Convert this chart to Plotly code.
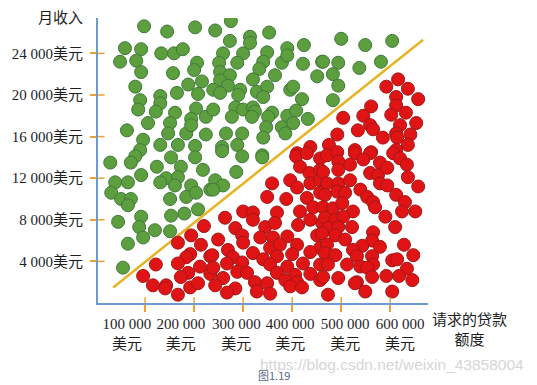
import plotly.graph_objects as go

# Loan amount requested (thousand USD) and monthly income (thousand USD)
green_loan = [98,145,202,59,92,133,159,177,49,82,92,157,206,200,80,188,216,165,131,208,
              90,131,86,122,161,204,106,151,194,224,63,147,184,194,224,96,131,167,202,90,
              275,243,273,314,314,353,259,300,349,390,424,251,288,341,379,390,422,461,253,273,
              333,320,365,451,253,269,239,294,328,349,396,402,253,290,341,420,239,284,300,320,
              324,359,390,408,277,318,351,432,379,402,347,265,298,341,386,257,288,339,
              500,549,604,463,494,537,581,483,494,483,
              29,80,71,124,153,173,202,218,39,65,92,143,167,131,161,194,31,51,71,65,
              151,184,204,233,92,153,180,208,45,88,120,151,65,96,55,
              257,298,339,286,243,259,239]
green_income = [26.6,26.1,26.5,24.5,24.4,24.0,24.0,24.4,23.2,23.3,22.2,22.1,23.1,22.4,20.8,21.0,21.3,20.2,19.9,20.1,
                19.5,19.2,18.6,18.4,18.3,18.7,17.3,17.3,17.7,17.9,16.6,16.3,16.3,17.1,16.2,15.7,15.2,15.2,15.1,14.7,
                27.1,26.2,25.2,25.6,25.0,26.0,24.0,24.0,24.1,24.5,24.8,23.1,23.1,23.2,23.1,23.8,23.0,23.2,22.2,21.9,
                22.5,21.5,21.9,21.8,21.4,20.9,20.5,20.5,20.3,20.8,20.5,20.8,20.2,20.0,19.8,19.6,18.6,18.8,18.6,18.8,
                18.4,18.3,18.0,18.5,17.9,17.9,17.9,17.7,16.9,17.3,16.9,16.3,16.3,15.9,16.3,15.0,15.2,14.2,
                25.4,24.8,25.2,23.2,23.1,22.6,23.2,22.0,20.9,19.5,
                13.5,14.1,13.5,13.1,14.0,13.1,14.0,12.8,11.6,11.6,12.3,12.0,12.1,11.6,11.3,11.3,10.6,10.0,10.0,9.4,
                10.0,10.2,10.6,10.9,8.3,8.4,8.6,9.0,7.8,7.3,7.0,6.9,5.7,6.3,3.4,
                14.6,14.1,14.0,12.6,11.8,11.3,10.9]

red_loan = [616,592,636,657,612,612,561,632,602,545,504,653,620,559,565,534,612,641,492,585,
            614,636,475,528,561,612,437,410,
            220,194,167,214,192,184,233,122,167,212,188,173,233,96,116,143,141,192,208,167,
            408,430,457,416,396,435,457,359,410,437,457,349,388,430,457,300,320,369,416,443,
            263,320,345,365,437,461,284,298,335,361,390,412,451,249,300,355,375,410,457,269,
            320,279,237,341,369,400,437,267,298,355,390,422,457,239,288,308,369,406,437,259,
            324,349,386,410,457,243,284,328,355,396,420,267,
            471,492,528,559,606,494,545,579,620,634,463,494,518,559,575,594,636,471,494,518,
            539,579,594,657,467,492,508,553,565,612,630,463,483,502,524,569,590,624,651,467,
            488,504,473,494,522,610,461,488,508,565,563,471,543,579,628,467,488,524,532,563,
            604,614,647,473,512,539,565,553,634,463,494,532,563,592,618,645,473,528,549,604]
red_income = [21.5,20.8,20.6,19.6,19.8,19.0,18.9,18.3,18.1,18.0,17.8,17.3,17.1,17.1,16.7,16.6,16.3,16.2,16.2,15.9,
              15.9,15.2,15.2,14.7,14.5,14.7,15.0,14.4,
              7.4,6.5,5.8,5.6,4.7,4.4,4.5,3.7,3.8,3.5,2.9,2.5,2.8,2.6,1.7,1.7,1.4,1.5,1.9,0.8,
              14.1,14.4,13.9,13.1,11.8,12.5,12.8,11.5,11.1,11.5,11.8,10.2,10.0,10.1,10.6,8.8,8.7,8.7,8.8,9.2,
              8.2,8.0,7.3,7.7,8.0,7.7,7.2,6.5,6.3,6.3,6.4,7.5,6.5,6.1,5.8,5.3,5.6,5.6,5.3,5.1,
              4.8,4.4,4.6,4.2,4.5,4.7,4.9,3.8,3.9,3.7,3.5,3.8,3.7,3.4,3.0,2.9,2.9,2.7,2.8,2.4,
              2.0,1.9,2.2,2.0,2.2,1.7,1.4,1.1,0.9,1.6,1.5,1.0,
              14.2,14.5,14.4,14.4,14.4,13.6,13.8,13.5,13.9,13.3,12.6,12.8,13.3,12.5,12.3,13.0,12.1,11.5,11.5,11.8,
              10.9,11.5,11.3,11.2,10.4,10.7,10.6,10.2,9.7,10.4,9.7,9.2,9.1,9.6,8.8,9.2,8.3,8.8,8.8,8.2,
              8.0,8.3,7.2,7.3,7.3,7.3,6.7,6.5,6.1,6.8,6.0,5.6,5.5,5.4,5.6,4.8,4.6,5.1,4.5,4.5,
              4.1,4.2,4.6,3.7,3.7,3.5,3.7,3.4,3.3,2.5,2.4,2.0,2.5,2.6,2.6,2.2,0.8,1.9,1.1,1.1]

boundary_loan = [35, 667]
boundary_income = [1.5, 25.3]

x_ticks = [100, 200, 300, 400, 500, 600]
# in the printed figure the labels sit slightly off their tick marks
x_label_pos = [63, 173, 286, 396, 508, 620]
x_labels = ["100 000<br>美元", "200 000<br>美元", "300 000<br>美元",
            "400 000<br>美元", "500 000<br>美元", "600 000<br>美元"]
y_ticks = [4, 8, 12, 16, 20, 24]
y_labels = ["4 000美元", "8 000美元", "12 000美元", "16 000美元", "20 000美元", "24 000美元"]

FONT = "Liberation Serif, Noto Sans CJK SC, serif"
AXIS_BLUE = "#6d9ad6"
TICK_ORANGE = "#f0a030"
TXT = "#1e1e1e"
X_RANGE = [4, 677]

fig = go.Figure()
fig.add_trace(go.Scatter(
    x=boundary_loan, y=boundary_income, mode="lines",
    line=dict(color="#e6b422", width=2.5), hoverinfo="skip", showlegend=False))
fig.add_trace(go.Scatter(
    x=green_loan, y=green_income, mode="markers",
    marker=dict(size=13, color="#5d9e3e", line=dict(color="#3f7a3a", width=1)),
    showlegend=False))
fig.add_trace(go.Scatter(
    x=red_loan, y=red_income, mode="markers",
    marker=dict(size=13, color="#e01414", line=dict(color="#a01818", width=1)),
    showlegend=False))

# inner halves of the crossing tick marks
shapes = []
for v in y_ticks:
    shapes.append(dict(type="line", xref="x domain", yref="y", x0=0, x1=0.02, y0=v, y1=v,
                       line=dict(color=TICK_ORANGE, width=1.5)))
for v in x_ticks:
    shapes.append(dict(type="line", xref="x", yref="y domain", x0=v, x1=v, y0=0, y1=0.02,
                       line=dict(color=TICK_ORANGE, width=1.5)))

# page body has an 8px margin, so the figure is 8px smaller than the window
fig.update_layout(
    width=529, height=377,
    margin=dict(l=90, r=109, t=10, b=82, autoexpand=False),
    paper_bgcolor="white", plot_bgcolor="white",
    font=dict(family=FONT, size=15, color=TXT),
    shapes=shapes,
    xaxis=dict(range=X_RANGE, showgrid=False, zeroline=False, automargin=False,
               showline=True, linecolor=AXIS_BLUE, linewidth=2,
               tickmode="array", tickvals=x_ticks, showticklabels=False,
               ticks="outside", ticklen=7, tickwidth=1.5, tickcolor=TICK_ORANGE),
    xaxis2=dict(range=X_RANGE, overlaying="x", anchor="y", side="bottom",
                showgrid=False, zeroline=False, automargin=False, showline=False,
                tickmode="array", tickvals=x_label_pos, ticktext=x_labels, tickangle=0,
                ticks="outside", ticklen=7, tickcolor="rgba(0,0,0,0)",
                tickfont=dict(family=FONT, size=15, color=TXT)),
    yaxis=dict(range=[0, 27.4], showgrid=False, zeroline=False, automargin=False,
               showline=True, linecolor=AXIS_BLUE, linewidth=2,
               tickmode="array", tickvals=y_ticks, ticktext=y_labels,
               ticks="outside", ticklen=6, tickwidth=1.5, tickcolor=TICK_ORANGE,
               ticklabelstandoff=4,
               tickfont=dict(family=FONT, size=15, color=TXT)),
    annotations=[
        dict(text="月收入", xref="paper", yref="paper", x=-0.039, y=1.0,
             xanchor="right", yanchor="middle", showarrow=False,
             font=dict(family=FONT, size=15, color=TXT)),
        dict(text="请求的贷款<br>额度", xref="paper", yref="paper", x=1.127, y=-0.025,
             xanchor="center", yanchor="top", showarrow=False,
             font=dict(family=FONT, size=15, color=TXT)),
        dict(text="https://blog.csdn.net/weixin_43858004", xref="paper", yref="paper",
             x=1.297, y=-0.2175, xanchor="right", yanchor="middle", showarrow=False,
             font=dict(family="Liberation Sans, Arial, sans-serif", size=15.5, color="#d6d6d6")),
        dict(text="图1.19", xref="paper", yref="paper", x=0.533, y=-0.252,
             xanchor="center", yanchor="middle", showarrow=False,
             font=dict(family="Noto Sans CJK SC, sans-serif", size=11, color="#5a6a85")),
    ],
)
# dummy trace so the label axis is drawn
fig.add_trace(go.Scatter(x=[], y=[], xaxis="x2", yaxis="y", showlegend=False))

fig.write_html("out.html")
